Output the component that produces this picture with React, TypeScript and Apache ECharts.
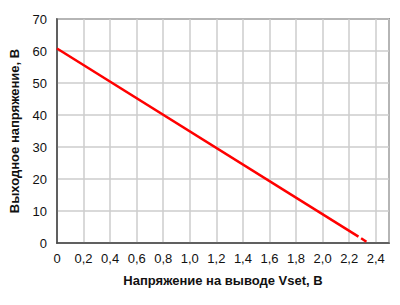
import React, { useEffect, useRef } from "react";
import * as echarts from "echarts";

const solidLine: [number, number][] = [
  [0, 60.8],
  [2.27, 2.0],
];
const dashedLine: [number, number][] = [
  [2.29, 1.5],
  [2.33, 0.4],
];
const xTitle = "Напряжение на выводе Vset, В";
const yTitle = "Выходное напряжение, В";

export default function App() {
  const ref = useRef<HTMLDivElement>(null);
  useEffect(() => {
    if (!ref.current) return;
    const chart = echarts.init(ref.current, null, { renderer: "svg" });
    const font = "'Liberation Sans', Arial, sans-serif";
    chart.setOption({
      animation: false,
      backgroundColor: "#ffffff",
      grid: {
        left: 57,
        top: 19,
        right: 11,
        bottom: 62,
        show: true,
        borderColor: "#444",
        borderWidth: 1.5,
      },
      xAxis: {
        type: "value",
        min: 0,
        max: 2.5,
        interval: 0.2,
        name: xTitle,
        nameLocation: "middle",
        nameGap: 31,
        nameTextStyle: { fontFamily: font, fontSize: 13, fontWeight: "bold", color: "#111" },
        axisLine: { show: true, lineStyle: { color: "#444", width: 1.5 } },
        axisTick: { show: false },
        axisLabel: {
          fontFamily: font,
          fontSize: 13,
          color: "#111",
          margin: 9,
          formatter: (v: number) => {
            if (Math.abs(v * 5 - Math.round(v * 5)) > 1e-6) return "";
            if (v === 0) return "0";
            return v.toFixed(1).replace(".", ",");
          },
        },
        splitLine: { show: true, lineStyle: { color: "#cccccc", width: 1.5 } },
      },
      yAxis: {
        type: "value",
        min: 0,
        max: 70,
        interval: 10,
        name: yTitle,
        nameLocation: "middle",
        nameGap: 36,
        nameRotate: 90,
        nameTextStyle: { fontFamily: font, fontSize: 13, fontWeight: "bold", color: "#111" },
        axisLine: { show: true, lineStyle: { color: "#444", width: 1.5 } },
        axisTick: { show: false },
        axisLabel: { fontFamily: font, fontSize: 13, color: "#111", margin: 10 },
        splitLine: { show: true, lineStyle: { color: "#cccccc", width: 1.5 } },
      },
      series: [
        {
          type: "line",
          data: solidLine,
          symbol: "none",
          lineStyle: { color: "#ff0000", width: 2.5 },
        },
        {
          type: "line",
          data: dashedLine,
          symbol: "none",
          lineStyle: { color: "#ff0000", width: 2.5 },
        },
      ],
    });
    return () => chart.dispose();
  }, []);
  return (
    <div
      ref={ref}
      style={{ position: "fixed", left: 0, top: 0, width: 400, height: 305 }}
    />
  );
}
